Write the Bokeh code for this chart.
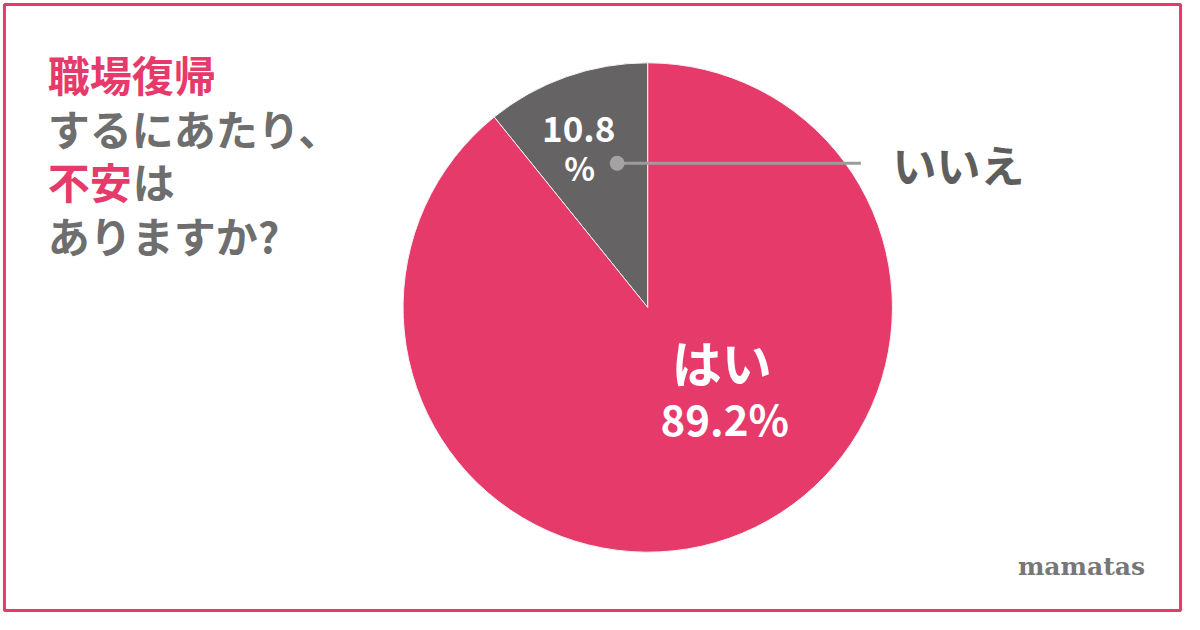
from bokeh.plotting import figure
from bokeh.models import Range1d, ColumnDataSource
from bokeh.core.properties import value
from bokeh.embed import file_html
from bokeh.resources import INLINE
import math

# ---- data ----
categories = ["いいえ", "はい"]
percents = [10.8, 89.2]
colors = ["#666364", "#E53A6A"]

PINK = "#E53A6A"
GRAY_TXT = "#6E6E6E"
JP = value("Noto Sans CJK JP")

W, H = 1184, 614
p = figure(width=W, height=H, output_backend="svg", toolbar_location=None,
           x_range=Range1d(0, 1200), y_range=Range1d(0, 630),
           min_border=0, border_fill_color="white", background_fill_color="white")
p.axis.visible = False
p.grid.visible = False
p.outline_line_color = None


def Y(yimg):
    return 630 - yimg


# frame border
p.quad(left=[4], right=[1196], bottom=[Y(626)], top=[Y(4)], fill_color=None,
       line_color=PINK, line_width=3)

# ---- pie: starts at 12 o'clock, いいえ counter-clockwise, はい the rest ----
starts, ends = [], []
acc = math.pi / 2
for v in percents:
    a = v / 100 * 2 * math.pi
    starts.append(acc)
    ends.append(acc + a)
    acc += a
src = ColumnDataSource(dict(start=starts, end=ends, color=colors, cat=categories))
p.wedge(x=656, y=Y(315), radius=248, start_angle="start", end_angle="end",
        fill_color="color", line_color="#F3F3F3", line_width=1, source=src)

# ---- labels ----
p.segment(x0=[625], y0=[Y(167)], x1=[872], y1=[Y(167)], line_color="#9C9C9C", line_width=3)
p.scatter(x=[625], y=[Y(167)], size=15, fill_color="#A3A3A3", line_color=None)

p.text(x=[586], y=[Y(132)], text=[f"{percents[0]}"], text_font=JP, text_font_style="bold",
       text_font_size="35px", text_color="white", text_align="center", text_baseline="middle")
p.text(x=[587], y=[Y(171)], text=["%"], text_font=JP, text_font_style="bold",
       text_font_size="32px", text_color="white", text_align="center", text_baseline="middle")
p.text(x=[904], y=[Y(168)], text=[categories[0]], text_font=JP, text_font_style="bold",
       text_font_size="44px", text_color="#5E5E5E", text_align="left", text_baseline="middle")

p.text(x=[731], y=[Y(370)], text=[categories[1]], text_font=JP, text_font_style="bold",
       text_font_size="50px", text_color="white", text_align="center", text_baseline="middle")
p.text(x=[734], y=[Y(428)], text=[f"{percents[1]}%"], text_font=JP, text_font_style="bold",
       text_font_size="42px", text_color="white", text_align="center", text_baseline="middle")

# ---- title ----
fs = "42px"
p.text(x=[48], y=[Y(75)], text=["職場復帰"], text_font=JP, text_font_style="bold",
       text_font_size=fs, text_color=PINK, text_align="left", text_baseline="middle")
p.text(x=[48], y=[Y(130)], text=["するにあたり、"], text_font=JP, text_font_style="bold",
       text_font_size=fs, text_color=GRAY_TXT, text_align="left", text_baseline="middle")
p.text(x=[48], y=[Y(185)], text=["不安"], text_font=JP, text_font_style="bold",
       text_font_size=fs, text_color=PINK, text_align="left", text_baseline="middle")
p.text(x=[134], y=[Y(185)], text=["は"], text_font=JP, text_font_style="bold",
       text_font_size=fs, text_color=GRAY_TXT, text_align="left", text_baseline="middle")
p.text(x=[48], y=[Y(240)], text=["ありますか?"], text_font=JP, text_font_style="bold",
       text_font_size=fs, text_color=GRAY_TXT, text_align="left", text_baseline="middle")

# ---- brand ----
p.text(x=[1160], y=[Y(581)], text=["mamatas"], text_font=value("DejaVu Serif"), text_font_style="bold",
       text_font_size="25px", text_color="#777777", text_align="right", text_baseline="middle")

open("out.html", "w").write(file_html(p, INLINE))
